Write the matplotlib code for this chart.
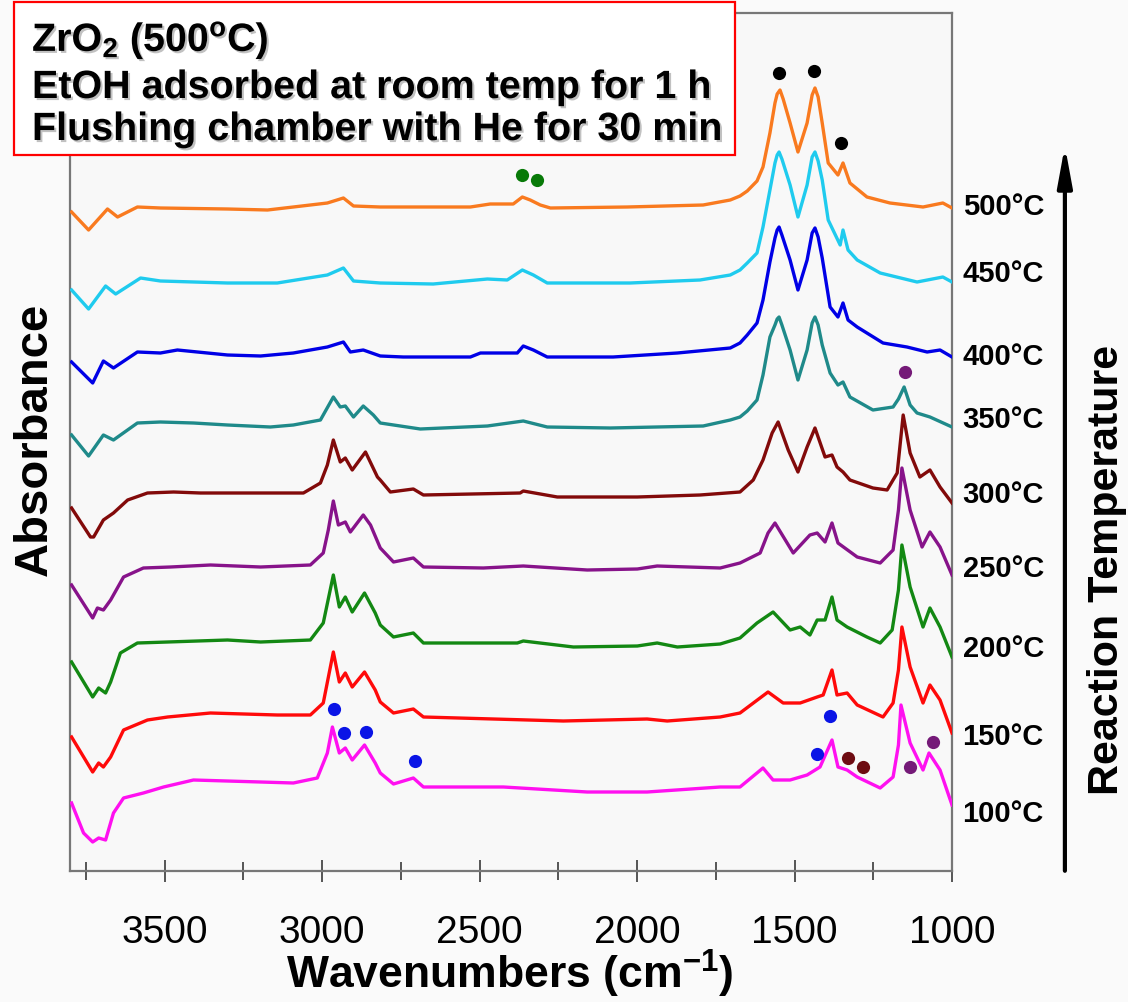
import matplotlib
matplotlib.use("Agg")
import matplotlib.pyplot as plt
import matplotlib.patheffects as pe
from matplotlib.patches import Rectangle
from matplotlib.transforms import blended_transform_factory

plt.rcParams["font.family"] = ["Liberation Sans", "DejaVu Sans"]
plt.rcParams["mathtext.fontset"] = "custom"
plt.rcParams["mathtext.rm"] = "Liberation Sans"
plt.rcParams["mathtext.bf"] = "Liberation Sans:bold"
plt.rcParams["mathtext.it"] = "Liberation Sans:italic"

# ---- in-situ DRIFT spectra of ethanol on ZrO2, stacked (a.u.) ----
# each spectrum: (wavenumber cm-1, stacked absorbance)
spectrum_500 = [(3795, 6.59), (3741, 6.41), (3681, 6.62), (3649, 6.54), (3586, 6.64), (3513, 6.63),
                (3300, 6.62), (3173, 6.61), (3091, 6.64), (2983, 6.68), (2932, 6.73), (2900, 6.65),
                (2815, 6.64), (2529, 6.64), (2466, 6.67), (2393, 6.67), (2364, 6.74), (2339, 6.71),
                (2307, 6.66), (2275, 6.63), (2031, 6.64), (1790, 6.66), (1704, 6.71), (1673, 6.75),
                (1650, 6.80), (1619, 6.90), (1600, 7.04), (1578, 7.38), (1562, 7.68), (1555, 7.77),
                (1546, 7.81), (1536, 7.72), (1514, 7.48), (1489, 7.19), (1460, 7.48), (1444, 7.76),
                (1435, 7.83), (1425, 7.74), (1412, 7.48), (1393, 7.08), (1362, 6.96), (1346, 7.08),
                (1324, 6.88), (1270, 6.74), (1197, 6.68), (1092, 6.64), (1029, 6.68), (1000, 6.63)]

spectrum_450 = [(3795, 5.81), (3741, 5.62), (3687, 5.85), (3655, 5.77), (3576, 5.93), (3513, 5.90),
                (3300, 5.88), (3142, 5.88), (2983, 5.96), (2932, 6.03), (2900, 5.90), (2815, 5.88),
                (2647, 5.87), (2475, 5.92), (2412, 5.91), (2364, 6.01), (2329, 5.96), (2285, 5.88),
                (2022, 5.88), (1800, 5.91), (1704, 5.96), (1673, 6.01), (1650, 6.08), (1619, 6.18),
                (1600, 6.44), (1578, 6.81), (1562, 7.08), (1555, 7.16), (1549, 7.19), (1540, 7.12),
                (1514, 6.86), (1489, 6.54), (1460, 6.86), (1444, 7.14), (1435, 7.19), (1425, 7.10),
                (1412, 6.91), (1393, 6.51), (1355, 6.26), (1346, 6.41), (1330, 6.21), (1301, 6.11),
                (1228, 5.98), (1111, 5.89), (1029, 5.94), (1000, 5.89)]

spectrum_400 = [(3795, 5.09), (3728, 4.88), (3694, 5.10), (3662, 5.03), (3586, 5.19), (3513, 5.18),
                (3459, 5.21), (3300, 5.16), (3195, 5.15), (3091, 5.18), (2983, 5.24), (2932, 5.29),
                (2910, 5.19), (2869, 5.21), (2815, 5.15), (2742, 5.14), (2529, 5.14), (2497, 5.18),
                (2380, 5.18), (2361, 5.25), (2329, 5.21), (2285, 5.14), (2076, 5.14), (1872, 5.18),
                (1704, 5.23), (1673, 5.28), (1650, 5.36), (1619, 5.48), (1600, 5.71), (1578, 6.09),
                (1562, 6.33), (1555, 6.41), (1549, 6.44), (1540, 6.36), (1514, 6.11), (1489, 5.81),
                (1460, 6.11), (1444, 6.38), (1435, 6.43), (1425, 6.34), (1412, 6.13), (1387, 5.64),
                (1362, 5.54), (1346, 5.68), (1330, 5.51), (1301, 5.44), (1219, 5.28), (1143, 5.24),
                (1079, 5.19), (1038, 5.21), (1000, 5.14)]

spectrum_350 = [(3795, 4.36), (3741, 4.15), (3694, 4.36), (3662, 4.31), (3586, 4.48), (3513, 4.49),
                (3408, 4.48), (3300, 4.46), (3164, 4.44), (3091, 4.46), (3005, 4.51), (2964, 4.74),
                (2942, 4.64), (2926, 4.65), (2900, 4.54), (2869, 4.65), (2837, 4.56), (2815, 4.48),
                (2688, 4.42), (2475, 4.45), (2361, 4.50), (2285, 4.44), (2085, 4.43), (1790, 4.45),
                (1704, 4.51), (1673, 4.54), (1650, 4.60), (1619, 4.71), (1600, 4.96), (1578, 5.34),
                (1562, 5.46), (1555, 5.52), (1549, 5.54), (1540, 5.46), (1514, 5.21), (1489, 4.91),
                (1460, 5.21), (1444, 5.48), (1435, 5.54), (1425, 5.46), (1412, 5.26), (1387, 4.98),
                (1362, 4.86), (1346, 4.89), (1324, 4.74), (1251, 4.61), (1187, 4.64), (1170, 4.72),
                (1152, 4.84), (1133, 4.66), (1111, 4.58), (1070, 4.54), (1000, 4.44)]

spectrum_300 = [(3795, 3.63), (3735, 3.34), (3725, 3.34), (3694, 3.51), (3662, 3.58), (3617, 3.71),
                (3554, 3.78), (3471, 3.79), (3386, 3.78), (3195, 3.78), (3059, 3.78), (3005, 3.88),
                (2983, 4.06), (2964, 4.31), (2942, 4.09), (2926, 4.13), (2904, 4.01), (2862, 4.19),
                (2824, 3.94), (2815, 3.91), (2783, 3.79), (2710, 3.82), (2678, 3.76), (2371, 3.78),
                (2361, 3.80), (2253, 3.74), (1999, 3.74), (1800, 3.76), (1673, 3.79), (1631, 3.91),
                (1600, 4.11), (1571, 4.38), (1552, 4.49), (1520, 4.21), (1489, 3.99), (1460, 4.24),
                (1435, 4.43), (1403, 4.14), (1381, 4.16), (1365, 4.04), (1346, 3.99), (1324, 3.91),
                (1251, 3.83), (1206, 3.81), (1174, 3.98), (1155, 4.56), (1133, 4.18), (1102, 3.94),
                (1070, 4.01), (1038, 3.84), (1000, 3.68)]

spectrum_250 = [(3795, 2.86), (3728, 2.53), (3713, 2.63), (3694, 2.61), (3671, 2.71), (3630, 2.94),
                (3567, 3.03), (3481, 3.04), (3354, 3.06), (3195, 3.04), (3037, 3.06), (2996, 3.18),
                (2980, 3.41), (2964, 3.70), (2948, 3.46), (2926, 3.49), (2910, 3.39), (2869, 3.56),
                (2846, 3.46), (2815, 3.23), (2773, 3.09), (2710, 3.13), (2678, 3.04), (2488, 3.03),
                (2361, 3.05), (2158, 3.01), (1999, 3.02), (1936, 3.05), (1736, 3.03), (1673, 3.08),
                (1609, 3.18), (1584, 3.38), (1562, 3.48), (1504, 3.18), (1451, 3.36), (1428, 3.38),
                (1403, 3.29), (1381, 3.48), (1362, 3.28), (1301, 3.14), (1228, 3.08), (1187, 3.21),
                (1170, 3.61), (1159, 4.03), (1133, 3.61), (1095, 3.24), (1070, 3.39), (1038, 3.24),
                (1000, 2.96)]

spectrum_200 = [(3795, 2.09), (3728, 1.74), (3709, 1.83), (3687, 1.78), (3671, 1.89), (3640, 2.18),
                (3586, 2.28), (3490, 2.29), (3300, 2.31), (3195, 2.29), (3037, 2.31), (2996, 2.48),
                (2964, 2.96), (2945, 2.64), (2926, 2.74), (2904, 2.59), (2865, 2.78), (2831, 2.58),
                (2815, 2.46), (2773, 2.34), (2710, 2.38), (2678, 2.28), (2380, 2.28), (2361, 2.30),
                (2202, 2.24), (1999, 2.25), (1936, 2.28), (1872, 2.24), (1736, 2.27), (1673, 2.33),
                (1619, 2.48), (1568, 2.59), (1514, 2.41), (1482, 2.44), (1451, 2.36), (1428, 2.51),
                (1403, 2.51), (1381, 2.74), (1365, 2.51), (1333, 2.44), (1270, 2.34), (1228, 2.28),
                (1190, 2.41), (1170, 2.81), (1159, 3.26), (1133, 2.84), (1092, 2.44), (1070, 2.63),
                (1038, 2.44), (1000, 2.14)]

spectrum_150 = [(3795, 1.34), (3728, 0.99), (3709, 1.08), (3694, 1.04), (3671, 1.14), (3630, 1.41),
                (3554, 1.51), (3490, 1.54), (3354, 1.58), (3142, 1.56), (3037, 1.56), (2996, 1.68),
                (2964, 2.19), (2945, 1.89), (2926, 1.98), (2904, 1.84), (2865, 1.99), (2831, 1.81),
                (2815, 1.69), (2773, 1.58), (2710, 1.62), (2678, 1.54), (2234, 1.50), (1968, 1.52),
                (1904, 1.50), (1736, 1.54), (1673, 1.58), (1584, 1.79), (1536, 1.68), (1482, 1.68),
                (1428, 1.74), (1409, 1.76), (1381, 2.01), (1365, 1.76), (1333, 1.78), (1301, 1.66),
                (1219, 1.54), (1187, 1.68), (1170, 2.01), (1159, 2.44), (1133, 2.04), (1092, 1.68),
                (1070, 1.86), (1038, 1.71), (1000, 1.38)]

spectrum_100 = [(3795, 0.68), (3757, 0.38), (3728, 0.29), (3709, 0.33), (3687, 0.31), (3662, 0.58),
                (3630, 0.73), (3567, 0.78), (3503, 0.84), (3408, 0.91), (3195, 0.89), (3091, 0.88),
                (3015, 0.93), (2983, 1.18), (2967, 1.44), (2945, 1.18), (2926, 1.23), (2904, 1.11),
                (2865, 1.26), (2831, 1.08), (2815, 0.98), (2773, 0.87), (2710, 0.93), (2678, 0.84),
                (2424, 0.84), (2158, 0.79), (1968, 0.79), (1736, 0.84), (1673, 0.84), (1600, 1.03),
                (1568, 0.91), (1514, 0.91), (1460, 0.96), (1419, 1.04), (1381, 1.31), (1362, 1.04),
                (1333, 1.01), (1301, 0.94), (1228, 0.83), (1187, 0.94), (1170, 1.26), (1162, 1.66),
                (1133, 1.28), (1092, 1.01), (1073, 1.18), (1038, 1.01), (1000, 0.66)]

temperatures = ["500", "450", "400", "350", "300", "250", "200", "150", "100"]
spectra = [spectrum_500, spectrum_450, spectrum_400, spectrum_350, spectrum_300,
           spectrum_250, spectrum_200, spectrum_150, spectrum_100]
line_colors = ["#f97a1f", "#1fcbee", "#0000e6", "#1f8a8a", "#820a0a",
               "#87138a", "#138813", "#ff0a0a", "#ff10f0"]
label_nudge = [0.03, 0.10, 0.02, 0.09, 0.10, 0.08, 0.10, -0.02, -0.07]

# band assignment markers: (wavenumber, height)
marks_black = [(1549, 7.98), (1438, 8.00), (1352, 7.28)]
marks_green = [(2364, 6.96), (2317, 6.91)]
marks_blue = [(2961, 1.62), (2929, 1.38), (2859, 1.39), (2704, 1.10), (1387, 1.55), (1428, 1.17)]
marks_maroon = [(1330, 1.13), (1282, 1.04)]
marks_purple = [(1149, 4.99), (1133, 1.04), (1060, 1.29)]
mark_groups = [(marks_black, "#000000"), (marks_green, "#087a08"), (marks_blue, "#0a14e6"),
               (marks_maroon, "#6e0c12"), (marks_purple, "#751a78")]

major_ticks = [3500, 3000, 2500, 2000, 1500, 1000]
minor_ticks = [3750, 3250, 2750, 2250, 1750, 1250]

W, H = 1128, 1002
fig = plt.figure(figsize=(W / 100, H / 100), dpi=100, facecolor="#fafafa")
ax = fig.add_axes([70 / W, 1 - 871 / H, (952 - 70) / W, (871 - 13) / H])
ax.set_facecolor("#f8f8f8")

for spec, col in zip(spectra, line_colors):
    wn, ab = zip(*spec)
    ax.plot(wn, ab, color=col, lw=2.4, solid_joinstyle="round", zorder=3)

for pts, col in mark_groups:
    wn, ab = zip(*pts)
    ax.plot(wn, ab, "o", color=col, ms=9.5, mec="none", zorder=4)

ax.set_xlim(3800, 1000)
ax.set_ylim(0, 8.58)
ax.set_yticks([])
ax.set_xticks(major_ticks)
ax.set_xticks(minor_ticks, minor=True)
ax.set_xticklabels([str(t) for t in major_ticks])
ax.tick_params(axis="x", which="major", direction="inout", length=16, width=1.4,
               color="#555555", labelsize=28, pad=24)
ax.tick_params(axis="x", which="minor", direction="inout", length=13, width=1.4,
               color="#555555")
for s in ax.spines.values():
    s.set_color("#777777")
    s.set_linewidth(1.6)

# temperature labels at the right end of each trace
trans = blended_transform_factory(ax.transAxes, ax.transData)
for t, spec, nud in zip(temperatures, spectra, label_nudge):
    ax.text(1.012, spec[-1][1] + nud - 0.10, f"{t}\u00b0C", transform=trans,
            fontsize=21, fontweight="bold", ha="left", va="baseline", clip_on=False)

# reaction temperature arrow
ax.annotate("", xy=(1.128, 0.8485), xytext=(1.128, -0.003), xycoords="axes fraction",
            arrowprops=dict(arrowstyle="-|>,head_length=1.2,head_width=0.22",
                            lw=3, color="black", mutation_scale=20))
fig.text(1107 / W, 1 - 570 / H, "Reaction Temperature", rotation=90, fontsize=31,
         fontweight="bold", ha="center", va="center")

fig.text(35 / W, 1 - 439 / H, "Absorbance", rotation=90, fontsize=34,
         fontweight="bold", ha="center", va="center")
fig.text(510 / W, 1 - 989 / H, r"Wavenumbers (cm$^{\mathbf{-1}}$)", fontsize=32,
         fontweight="bold", ha="center", va="baseline")

# experiment conditions box
fig.add_artist(Rectangle((14 / W, 1 - 155 / H), 721 / W, 153 / H, transform=fig.transFigure,
                         facecolor="white", edgecolor="#ff0000", lw=1.6, zorder=5))
shadow = [pe.withSimplePatchShadow(offset=(1.5, -1.5), shadow_rgbFace="#999999", alpha=0.6)]
box_lines = [r"ZrO$_{\mathbf{2}}$ (500$^{\mathbf{o}}$C)",
             "EtOH adsorbed at room temp for 1 h",
             "Flushing chamber with He for 30 min"]
for line, base in zip(box_lines, [51, 98, 140]):
    fig.text(32 / W, 1 - base / H, line, fontsize=28.4, fontweight="bold", ha="left",
             va="baseline", zorder=6, path_effects=shadow)

fig.savefig("out.png", dpi=100, facecolor=fig.get_facecolor())
